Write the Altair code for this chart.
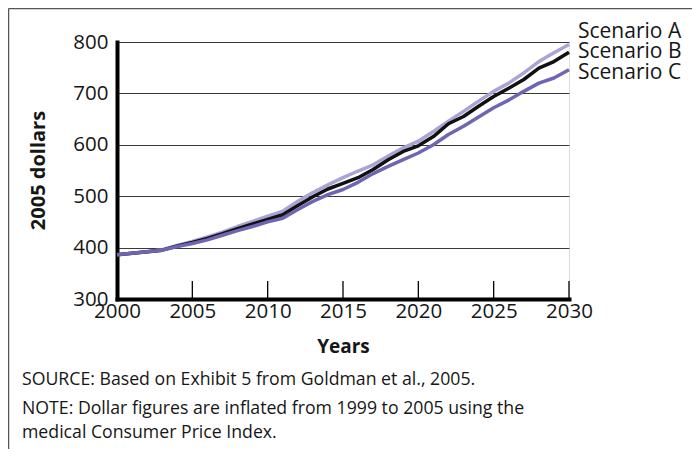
import altair as alt
import pandas as pd

years = list(range(2000, 2031))
scenario_a = [386, 389, 392, 396, 404, 412, 421, 430, 441, 451, 461, 471, 490, 507, 522,
              536, 549, 561, 578, 594, 607, 626, 646, 665, 685, 704, 720, 740, 762, 779, 795]
scenario_b = [386, 389, 392, 395, 403, 410, 418, 427, 437, 446, 455, 464, 482, 499, 514,
              525, 536, 552, 571, 587, 598, 616, 641, 655, 675, 694, 710, 727, 749, 762, 780]
scenario_c = [386, 389, 392, 395, 402, 408, 415, 424, 433, 441, 450, 457, 474, 490, 503,
              513, 527, 544, 558, 571, 584, 600, 620, 636, 654, 672, 687, 704, 720, 730, 746]

series_names = ["Scenario A", "Scenario B", "Scenario C"]
series_colors = ["#aaa3d6", "#111111", "#6e66b3"]
label_y = [819, 780, 740]
tick_years = [2005, 2010, 2015, 2020, 2025, 2030]
y_ticks = [300, 400, 500, 600, 700, 800]

FONT = "Open Sans"
TXT = "#161616"

rows = []
for name, vals in zip(series_names, [scenario_a, scenario_b, scenario_c]):
    for yr, v in zip(years, vals):
        rows.append({"year": yr, "value": v, "scenario": name})
df = pd.DataFrame(rows)

xscale = alt.Scale(domain=[2000, 2030], nice=False, zero=False)
yscale = alt.Scale(domain=[300, 800], nice=False, zero=False)

x_axis = alt.Axis(
    values=tick_years + [2000], format="d", ticks=False, grid=False,
    domainColor="#000000", domainWidth=4, domainCap="square",
    labelFont=FONT, labelFontSize=20.5, labelColor=TXT, labelPadding=2,
    labelFlush=False, labelOverlap=False,
    title="Years", titleFont=FONT, titleFontSize=19, titleFontWeight="bold",
    titleColor=TXT, titleY=47, titleBaseline="middle",
)
y_axis = alt.Axis(
    values=y_ticks, ticks=False, grid=True, gridColor="#3a3a3a", gridWidth=1.2,
    domainColor="#000000", domainWidth=4, domainCap="square",
    labelFont=FONT, labelFontSize=20.5, labelColor=TXT, labelPadding=9,
    labelFlush=False, labelOverlap=False,
    title="2005 dollars", titleFont=FONT, titleFontSize=20, titleFontWeight="bold",
    titleColor=TXT, titleX=-79, titleY=128, titleAngle=270,
    titleAlign="center", titleBaseline="middle",
)

color = alt.Color("scenario:N", scale=alt.Scale(domain=series_names, range=series_colors), legend=None)

lines = alt.Chart(df).mark_line(strokeWidth=3.5, strokeJoin="round", clip=False).encode(
    x=alt.X("year:Q", scale=xscale, axis=x_axis),
    y=alt.Y("value:Q", scale=yscale, axis=y_axis),
    color=color,
    order=alt.Order("year:Q"),
)

ticks = alt.Chart(pd.DataFrame({"year": tick_years})).mark_rule(color="#000000", strokeWidth=1.3).encode(
    x=alt.X("year:Q", scale=xscale),
    y=alt.value(257),
    y2=alt.value(239),
)

labels = alt.Chart(pd.DataFrame({"name": series_names, "ly": label_y})).mark_text(
    align="left", baseline="middle", font=FONT, fontSize=21, color=TXT, clip=False
).encode(
    x=alt.value(461),
    y=alt.Y("ly:Q", scale=yscale),
    text="name:N",
)

one = alt.Data(values=[{"a": 1}])
frame_top = alt.Chart(one).mark_rule(color="#555555", strokeWidth=1.3).encode(
    x=alt.value(-108.5), x2=alt.value(575), y=alt.value(-33.4)
)
frame_left = alt.Chart(one).mark_rule(color="#555555", strokeWidth=1.3).encode(
    x=alt.value(-108.4), y=alt.value(-33.5), y2=alt.value(407)
)

def note(txt, ypix):
    return alt.Chart(one).mark_text(
        align="left", baseline="middle", font=FONT, fontSize=17.7, color=TXT
    ).encode(x=alt.value(-95), y=alt.value(ypix), text=alt.value(txt))

notes = [
    note("SOURCE: Based on Exhibit 5 from Goldman et al., 2005.", 380 - 42),
    note("NOTE: Dollar figures are inflated from 1999 to 2005 using the", 409 - 42),
    note("medical Consumer Price Index.", 433 - 42),
]

chart = alt.layer(frame_top, frame_left, ticks, lines, labels, *notes).properties(
    width=452, height=257,
    padding={"left": 109, "top": 34, "right": 123, "bottom": 150},
    autosize=alt.AutoSizeParams(type="none"),
).configure_view(stroke=None).configure(background="#ffffff")

chart.save("out.html", embed_options={"renderer": "svg", "actions": False})
